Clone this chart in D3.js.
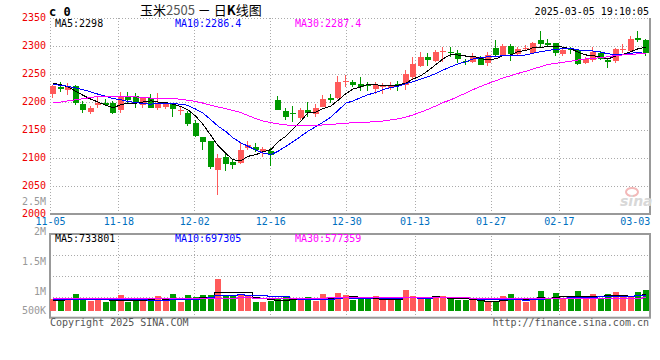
<!DOCTYPE html>
<html lang="zh-CN">
<head>
<meta charset="UTF-8">
<title>玉米2505 日K线图</title>
<script src="https://d3js.org/d3.v7.min.js"></script>
<style>
    body { margin: 0; background: #fff; }
    svg { display: block; }
    text { font-family: "DejaVu Sans Mono", monospace; font-size: 10px; }
</style>
</head>
<body>
<svg id="kline" width="660" height="360"></svg>
<script>
    // ---- data ----
    var dates = ["11-05","11-06","11-07","11-08","11-11","11-12","11-13","11-14","11-15","11-18",
        "11-19","11-20","11-21","11-22","11-25","11-26","11-27","11-28","11-29","12-02",
        "12-03","12-04","12-05","12-06","12-09","12-10","12-11","12-12","12-13","12-16",
        "12-17","12-18","12-19","12-20","12-23","12-24","12-25","12-26","12-27","12-30",
        "12-31","01-02","01-03","01-06","01-07","01-08","01-09","01-10","01-13","01-14",
        "01-15","01-16","01-17","01-20","01-21","01-22","01-23","01-24","01-27","02-05",
        "02-06","02-07","02-10","02-11","02-12","02-13","02-14","02-17","02-18","02-19",
        "02-20","02-21","02-24","02-25","02-26","02-27","02-28","03-03","03-04","03-05"];

    var open = [2213,2226,2221,2229,2196,2183,2195,2199,2198,2186, 2209,2210,2195,2208,2190,2190,2196,2184,2181,2162,
        2137,2130,2079,2101,2092,2091,2118,2120,2111,2113, 2204,2184,2181,2171,2186,2180,2192,2208,2207,2235,
        2236,2233,2231,2223,2226,2225,2233,2231,2245,2265, 2280,2274,2289,2290,2288,2273,2272,2279,2270,2296,
        2284,2300,2286,2295,2288,2310,2306,2305,2286,2294, 2293,2270,2274,2288,2275,2273,2293,2292,2314,2311];
    var high = [2230,2235,2234,2231,2201,2193,2209,2206,2201,2217, 2217,2216,2209,2214,2216,2199,2199,2192,2184,2168,
        2138,2131,2108,2107,2098,2126,2131,2126,2119,2118, 2211,2189,2193,2189,2200,2196,2212,2214,2247,2249,
        2239,2245,2236,2236,2234,2236,2238,2258,2280,2290, 2288,2293,2298,2298,2292,2277,2288,2282,2290,2311,
        2304,2304,2298,2302,2308,2326,2313,2305,2296,2298, 2295,2281,2299,2291,2279,2297,2304,2317,2326,2312];
    var low = [2207,2217,2213,2194,2181,2179,2190,2192,2178,2180, 2199,2189,2189,2189,2185,2187,2173,2177,2158,2137,
        2114,2081,2034,2076,2080,2090,2115,2110,2101,2085, 2185,2167,2164,2168,2174,2173,2191,2199,2206,2226,
        2226,2219,2219,2214,2215,2222,2219,2222,2240,2262, 2264,2272,2272,2280,2270,2266,2270,2266,2265,2281,
        2283,2274,2284,2291,2286,2299,2299,2282,2283,2285, 2266,2268,2272,2275,2261,2270,2287,2290,2308,2282];
    var close = [2228,2223,2226,2199,2186,2190,2199,2195,2180,2211, 2204,2199,2208,2190,2199,2198,2187,2186,2162,2138,
        2128,2084,2100,2088,2086,2115,2124,2115,2116,2106, 2186,2174,2179,2186,2181,2190,2206,2204,2236,2237,
        2230,2228,2229,2230,2228,2231,2231,2250,2268,2281, 2274,2290,2291,2288,2277,2272,2281,2267,2284,2284,
        2300,2286,2295,2297,2305,2302,2302,2288,2293,2292, 2268,2277,2289,2277,2271,2295,2294,2313,2310,2288];

    var ma5 = [2233,2231,2227,2219,2212,2205,2200,2194,2190,2195, 2198,2198,2200,2202,2200,2199,2196,2192,2186,2174,
        2160,2140,2122,2108,2097,2095,2103,2106,2111,2115, 2129,2139,2152,2166,2181,2182,2188,2193,2203,2215,
        2223,2227,2232,2231,2229,2229,2230,2234,2241,2247, 2256,2267,2277,2285,2284,2282,2282,2277,2276,2277,
        2283,2284,2290,2292,2297,2297,2300,2299,2298,2295, 2289,2284,2283,2280,2277,2282,2285,2290,2295,2298];
    var ma10 = [2231,2230,2228,2225,2222,2218,2214,2210,2206,2204, 2201,2199,2197,2196,2198,2198,2197,2196,2194,2187,
        2180,2168,2157,2147,2136,2127,2121,2114,2109,2106, 2112,2121,2129,2139,2148,2156,2164,2173,2185,2198,
        2202,2208,2213,2217,2222,2226,2228,2233,2236,2241, 2245,2251,2257,2263,2268,2272,2277,2279,2281,2281,
        2283,2283,2283,2284,2287,2290,2292,2294,2295,2296, 2293,2292,2291,2289,2286,2285,2284,2287,2289,2286];
    var ma30 = [2200,2200,2202,2204,2206,2208,2210,2210,2210,2210, 2210,2209,2208,2207,2207,2206,2206,2205,2203,2201,
        2198,2194,2191,2188,2185,2181,2176,2170,2166,2163, 2161,2159,2158,2158,2158,2158,2159,2160,2161,2162,
        2163,2163,2164,2165,2166,2168,2170,2173,2177,2182, 2187,2193,2199,2204,2210,2216,2222,2228,2233,2238,
        2243,2247,2251,2255,2259,2263,2267,2269,2271,2273, 2275,2277,2278,2279,2281,2283,2284,2285,2286,2287];

    // volume, in thousands
    var volume = [528,498,528,711,528,425,528,383,425,668, 383,425,456,528,626,456,711,383,668,597,
        668,668,1362,668,668,668,668,383,383,412, 528,626,528,456,597,412,711,528,766,668,
        456,498,498,639,528,456,498,881,639,498, 528,597,639,597,456,456,456,456,412,412,
        639,711,456,383,528,839,498,766,498,498, 839,597,711,528,711,796,597,597,796,881];
    var volMa5 = [480,470,500,540,559,538,544,515,458,486, 477,457,471,492,484,498,555,541,569,563,
        605,597,793,793,807,807,807,611,554,503, 475,466,495,510,547,524,541,541,603,617,
        626,583,577,552,524,524,524,600,600,594, 609,629,580,572,563,549,521,484,447,438,
        475,526,526,520,543,583,541,603,626,620, 620,640,629,635,677,669,669,646,699,733];
    var volMa10 = [530,528,526,530,532,530,526,522,520,522, 508,500,493,475,485,488,506,506,530,523,
        552,576,667,681,685,706,702,702,673,655, 641,637,553,532,525,499,504,518,556,582,
        575,562,559,577,570,575,554,589,576,559, 566,576,590,586,579,579,575,532,510,501,
        512,523,505,484,491,529,533,564,573,582, 602,590,616,630,649,644,654,637,667,697];
    var volMa30 = [540,540,538,540,542,540,540,538,536,540, 538,536,535,535,537,536,540,538,540,542,
        545,548,565,570,574,578,582,575,570,568, 568,570,572,570,572,570,575,578,585,588,
        586,585,584,586,586,588,590,598,600,600, 597,596,594,590,585,580,575,565,555,547,
        548,550,549,546,545,548,548,550,548,547, 550,553,556,560,563,566,569,572,575,577];

    var dateTicks = ["11-05","11-18","12-02","12-16","12-30","01-13","01-27","02-17","03-03"];
    var priceTicks = [2000,2050,2100,2150,2200,2250,2300,2350];
    var volTicks = [500,1000,1500,2000,2500];
    var volTickText = ["500K","1M","1.5M","2M","2.5M"];
    var maLegend = ["MA5:2298","MA10:2286.4","MA30:2287.4"];
    var volLegend = ["MA5:733801","MA10:697305","MA30:577359"];
    var maColors = ["#000000","#0000ff","#ff00ff"];

    var red = "#ff5a5a", green = "#009900";

    // ---- layout ----
    var svg = d3.select("#kline");
    var L = 50, R = 650;
    var mainTop = 18, mainBottom = 214;
    var volTop = 234, volBottom = 317.7, volBase = 311;

    var x = d3.scaleBand().domain(dates).range([L, R]).paddingInner(0).paddingOuter(0);
    var barW = Math.round(x.bandwidth() * 0.8);
    var xTick = d3.scalePoint().domain(dates).range([L, R]);
    var y = d3.scaleLinear().domain([2000, 2350]).range([mainBottom, mainTop]);
    var yVol = d3.scaleLinear().domain([0, 3280]).range([volBase, volTop]);
    var yVolLabel = d3.scaleLinear().domain([500, 1000, 2500]).range([313.7, 294, 204]);
    var volGrid = d3.scaleLinear().domain([0, 4]).range([volBottom, volTop]);

    function bx(i) { return Math.round(x(dates[i])); }
    function isUp(i) { return close[i] >= open[i]; }

    // ---- grid ----
    function dotted(g) {
        g.select(".domain").remove();
        g.selectAll("line").attr("stroke", "#aaa").attr("stroke-dasharray", "1,2")
            .attr("shape-rendering", "crispEdges");
    }
    svg.append("g").attr("transform", "translate(" + L + ",0)")
        .call(d3.axisLeft(y).tickValues(priceTicks.slice(1)).tickSize(-(R - L)).tickFormat(""))
        .call(dotted);
    svg.append("g").attr("transform", "translate(0," + mainBottom + ")")
        .call(d3.axisBottom(xTick).tickValues(dateTicks.slice(0, -1)).tickSize(-(mainBottom - mainTop)).tickFormat(""))
        .call(dotted);
    svg.append("g").attr("transform", "translate(" + L + ",0)")
        .call(d3.axisLeft(volGrid).tickValues([1, 2, 3]).tickSize(-(R - L)).tickFormat(""))
        .call(dotted);
    svg.append("g").attr("transform", "translate(0," + volBottom + ")")
        .call(d3.axisBottom(xTick).tickValues(dateTicks.slice(1, -1)).tickSize(-(volBottom - volTop)).tickFormat(""))
        .call(dotted);

    // borders
    svg.append("line").attr("x1", L).attr("x2", R + 1).attr("y1", mainBottom).attr("y2", mainBottom)
        .attr("stroke", "#999").attr("stroke-width", 2);
    svg.append("line").attr("x1", R).attr("x2", R).attr("y1", mainTop).attr("y2", mainBottom)
        .attr("stroke", "#999").attr("stroke-width", 2);
    svg.append("rect").attr("x", L).attr("y", volTop).attr("width", R - L).attr("height", volBottom - volTop)
        .attr("fill", "none").attr("stroke", "#999").attr("stroke-width", 2);

    // sina watermark
    svg.append("ellipse").attr("cx", 632).attr("cy", 192).attr("rx", 6).attr("ry", 4)
        .attr("fill", "none").attr("stroke", "#f3b8b8").attr("stroke-width", 2);
    svg.append("text").attr("x", 620).attr("y", 206).text("sina")
        .style("font-family", "DejaVu Sans").style("font-size", "14px")
        .style("font-style", "italic").style("font-weight", "bold").attr("fill", "#d8d8d8");

    // ---- candles ----
    var idx = d3.range(dates.length);
    svg.append("g").selectAll("line").data(idx).enter().append("line")
        .attr("x1", function(i) { return bx(i) + 2.5; })
        .attr("x2", function(i) { return bx(i) + 2.5; })
        .attr("y1", function(i) { return Math.round(y(high[i])); })
        .attr("y2", function(i) { return Math.round(y(low[i])); })
        .attr("stroke", function(i) { return isUp(i) ? red : green; })
        .attr("shape-rendering", "crispEdges");
    svg.append("g").selectAll("rect").data(idx).enter().append("rect")
        .attr("x", function(i) { return bx(i); })
        .attr("y", function(i) { return Math.round(y(Math.max(open[i], close[i]))); })
        .attr("width", barW)
        .attr("height", function(i) {
            return Math.max(1, Math.round(y(Math.min(open[i], close[i])) - y(Math.max(open[i], close[i]))));
        })
        .attr("fill", function(i) { return isUp(i) ? red : green; })
        .attr("shape-rendering", "crispEdges");

    // MA lines
    var maLine = d3.line()
        .x(function(d, i) { return bx(i) + 3; })
        .y(function(d) { return y(d); });
    [ma5, ma10, ma30].forEach(function(s, k) {
        svg.append("path").datum(s).attr("d", maLine)
            .attr("fill", "none").attr("stroke", maColors[k]).attr("stroke-width", 1)
            .attr("shape-rendering", "crispEdges");
    });

    // ---- volume ----
    svg.append("g").selectAll("rect").data(idx).enter().append("rect")
        .attr("x", function(i) { return bx(i); })
        .attr("y", function(i) { return Math.round(yVol(volume[i])); })
        .attr("width", barW)
        .attr("height", function(i) { return volBase - Math.round(yVol(volume[i])); })
        .attr("fill", function(i) { return isUp(i) ? red : green; })
        .attr("shape-rendering", "crispEdges");

    var volLine = d3.line().curve(d3.curveStep)
        .x(function(d, i) { return bx(i) + 3; })
        .y(function(d) { return Math.round(yVol(d)) + 0.5; });
    [volMa5, volMa10, volMa30].forEach(function(s, k) {
        svg.append("path").datum(s).attr("d", volLine)
            .attr("fill", "none").attr("stroke", maColors[k]).attr("stroke-width", 1)
            .attr("shape-rendering", "crispEdges");
    });

    // ---- axes text ----
    var yAxis = svg.append("g").attr("transform", "translate(" + L + ",0)")
        .call(d3.axisLeft(y).tickValues(priceTicks).tickSize(0).tickPadding(4).tickFormat(d3.format("d")));
    yAxis.select(".domain").remove();
    yAxis.selectAll("text").attr("dy", 2.5).attr("fill", "#ee0000")
        .style("font-family", "DejaVu Sans Mono").style("font-size", "10px");

    var vAxis = svg.append("g").attr("transform", "translate(" + L + ",0)")
        .call(d3.axisLeft(yVolLabel).tickValues(volTicks).tickSize(0).tickPadding(4)
            .tickFormat(function(d, i) { return volTickText[i]; }));
    vAxis.select(".domain").remove();
    vAxis.selectAll("text").attr("dy", 0).attr("fill", "#999")
        .style("font-family", "DejaVu Sans Mono").style("font-size", "10px");

    var xAxis = svg.append("g").attr("transform", "translate(0," + mainBottom + ")")
        .call(d3.axisBottom(xTick).tickValues(dateTicks).tickSize(0));
    xAxis.select(".domain").remove();
    xAxis.selectAll("text").attr("y", 11.2).attr("dy", 0).attr("fill", "#0070c0")
        .style("font-family", "DejaVu Sans Mono").style("font-size", "10px");

    // legends
    [55, 175, 295].forEach(function(px, k) {
        svg.append("text").attr("x", px).attr("y", 27).attr("fill", maColors[k]).text(maLegend[k]);
        svg.append("text").attr("x", px).attr("y", 241.5).attr("fill", maColors[k]).text(volLegend[k]);
    });

    // header
    svg.append("text").attr("x", 49).attr("y", 15.5).text("c 0")
        .style("font-size", "12px").style("font-weight", "bold");
    var title = svg.append("text").attr("x", 140).attr("y", 15)
        .style("font-family", "'Noto Sans CJK SC'").style("font-size", "13px");
    title.append("tspan").text("玉米");
    title.append("tspan").attr("fill", "#555").text("2505");
    title.append("tspan").text(" － 日");
    title.append("tspan").style("font-weight", "bold").text("K");
    title.append("tspan").text("线图");
    svg.append("text").attr("x", 649).attr("y", 15).attr("text-anchor", "end").text("2025-03-05 19:10:05");

    // footer
    svg.append("text").attr("x", 50).attr("y", 326).attr("fill", "#555").text("Copyright 2025 SINA.COM");
    svg.append("text").attr("x", 649).attr("y", 326).attr("text-anchor", "end").attr("fill", "#555")
        .text("http://finance.sina.com.cn");
</script>
</body>
</html>
